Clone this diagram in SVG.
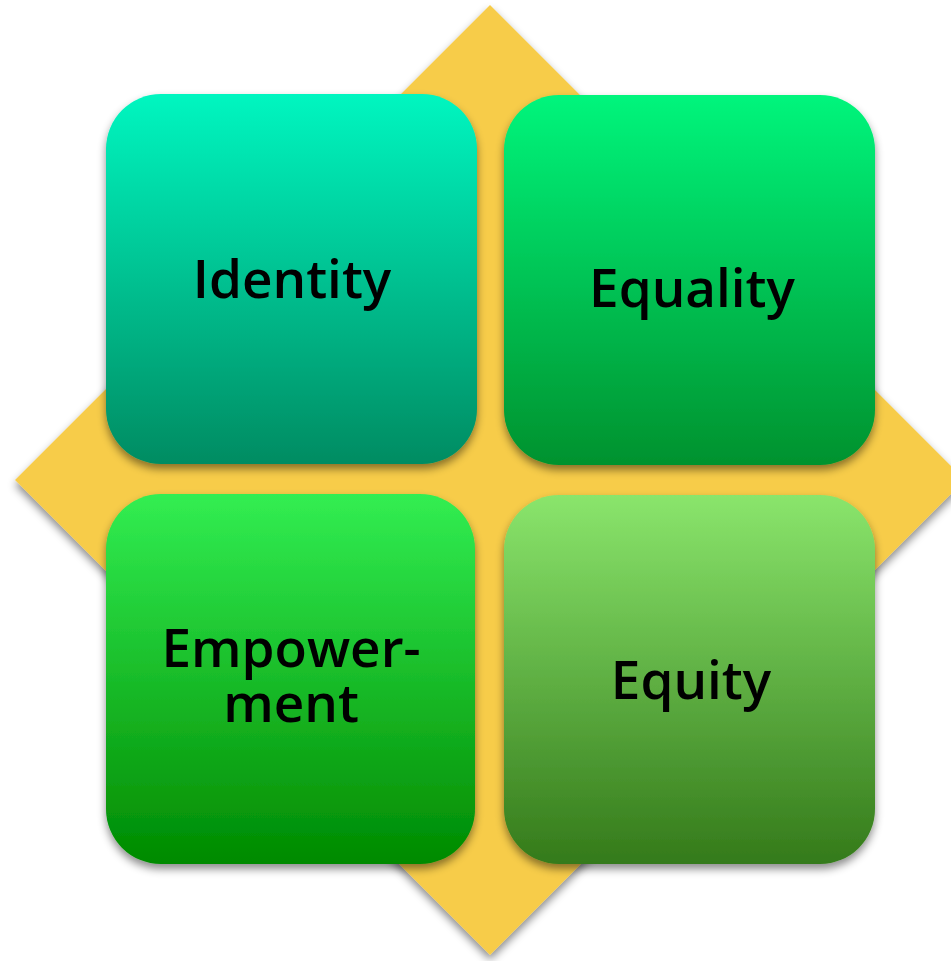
<svg xmlns="http://www.w3.org/2000/svg" width="951" height="961" viewBox="0 0 951 961">
  <defs>
    <filter id="sh" x="-10%" y="-10%" width="120%" height="125%">
      <feDropShadow dx="0" dy="5" stdDeviation="4" flood-color="#000" flood-opacity="0.45"/>
    </filter>
    <linearGradient id="gIdentity" x1="0" y1="0" x2="0" y2="1">
      <stop offset="0" stop-color="#00F6C0"/>
      <stop offset="1" stop-color="#008C62"/>
    </linearGradient>
    <linearGradient id="gEquality" x1="0" y1="0" x2="0" y2="1">
      <stop offset="0" stop-color="#00F57C"/>
      <stop offset="1" stop-color="#00922E"/>
    </linearGradient>
    <linearGradient id="gEmpower" x1="0" y1="0" x2="0" y2="1">
      <stop offset="0" stop-color="#32EE52"/>
      <stop offset="1" stop-color="#008A00"/>
    </linearGradient>
    <linearGradient id="gEquity" x1="0" y1="0" x2="0" y2="1">
      <stop offset="0" stop-color="#8AE56C"/>
      <stop offset="1" stop-color="#347A1A"/>
    </linearGradient>
  </defs>
  <style>
    .box { filter: url(#sh); }
    .lbl { font-family: "Open Sans", "DejaVu Sans", sans-serif; font-size: 53px; font-weight: 600; fill: #000; text-anchor: middle; }
  </style>
  <rect width="951" height="961" fill="#fff"/>
  <g id="diamond">
    <polygon points="490,5 965,480 490,955 15,480" fill="#F7CC4A" filter="url(#sh)"/>
  </g>
  <g id="connectors"/>
  <g id="identity">
    <rect class="box" x="106" y="94" width="371" height="370" rx="55" fill="url(#gIdentity)"/>
    <text class="lbl" x="292" y="298">Identity</text>
  </g>
  <g id="equality">
    <rect class="box" x="504" y="95" width="371" height="370" rx="55" fill="url(#gEquality)"/>
    <text class="lbl" x="692" y="307">Equality</text>
  </g>
  <g id="empowerment">
    <rect class="box" x="106" y="494" width="369" height="370" rx="55" fill="url(#gEmpower)"/>
    <text class="lbl" x="291" y="667">Empower-<tspan x="291" dy="55">ment</tspan></text>
  </g>
  <g id="equity">
    <rect class="box" x="504" y="495" width="371" height="369" rx="55" fill="url(#gEquity)"/>
    <text class="lbl" x="691" y="699">Equity</text>
  </g>
</svg>
